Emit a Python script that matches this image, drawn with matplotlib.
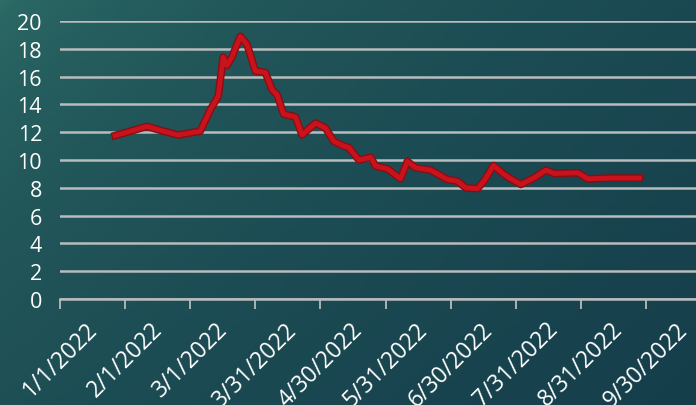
import matplotlib.pyplot as plt
import matplotlib.patheffects as pe
import numpy as np

# days since 1/1/2022 and values
days = [25.4, 32, 40, 47, 54.5, 60, 64.6, 69.2, 72.9, 75.2, 76.9, 79.2, 83.1, 86.2,
        90, 94.6, 97.7, 100, 103, 108.5, 111.5, 117.7, 122.3, 126.1, 130.8, 133,
        137.7, 143.1, 145.4, 150.8, 156.9, 160, 163.8, 170.8, 178.5, 183.1, 186.9,
        192.3, 195.4, 199.7, 204.6, 207.7, 212.3, 218.4, 223.8, 227.7, 238.5,
        243.1, 253.8, 266.9]
values = [11.76, 12.05, 12.42, 12.1, 11.8, 11.95, 12.07, 13.6, 14.6, 17.4, 16.8, 17.4,
          18.9, 18.3, 16.4, 16.3, 15.05, 14.7, 13.3, 13.1, 11.8, 12.66, 12.3, 11.35,
          11.0, 10.9, 10.0, 10.2, 9.56, 9.37, 8.65, 9.9, 9.44, 9.27, 8.6, 8.48, 8.0,
          7.94, 8.5, 9.6, 8.96, 8.65, 8.24, 8.72, 9.27, 9.03, 9.08, 8.65, 8.7, 8.7]

tick_days = [0, 30, 60, 90, 120, 150, 180, 210, 240, 270]
tick_labels = ["1/1/2022", "2/1/2022", "3/1/2022", "3/31/2022", "4/30/2022",
               "5/31/2022", "6/30/2022", "7/31/2022", "8/31/2022", "9/30/2022"]
y_ticks = list(range(0, 21, 2))

plt.rcParams['font.family'] = ['Open Sans', 'DejaVu Sans']

fig = plt.figure(figsize=(6.96, 4.06), dpi=100)

# background gradient
bg = fig.add_axes([0, 0, 1, 1], zorder=-10)
gx, gy = np.meshgrid(np.linspace(0, 1, 200), np.linspace(0, 1, 120))
t = np.clip(0.6 * gx + 0.4 * gy, 0, 1) ** 0.5
c0 = np.array([0x2e, 0x6e, 0x68]) / 255
c1 = np.array([0x15, 0x3e, 0x4b]) / 255
img = c0[None, None, :] * (1 - t[..., None]) + c1[None, None, :] * t[..., None]
bg.imshow(img, aspect='auto', extent=[0, 1, 0, 1], origin='upper')
bg.axis('off')

ax = fig.add_axes([60 / 696, 1 - 300 / 406, 1 - 60 / 696, (300 - 22) / 406])
ax.patch.set_alpha(0)

ax.plot(days, values, color='#c8121c', lw=3.5, solid_joinstyle='round',
        path_effects=[pe.Stroke(linewidth=5.5, foreground='#8a0d14'), pe.Normal()], zorder=5)

ax.set_xlim(0, 293)
ax.set_ylim(0, 20)
ax.set_yticks(y_ticks)
ax.set_xticks(tick_days)
ax.set_xticklabels(tick_labels, rotation=45, ha='center')

ax.grid(axis='y', color='#b8bcbc', lw=1.8)
ax.set_axisbelow(True)
for spine in ('top', 'right', 'left'):
    ax.spines[spine].set_visible(False)
ax.spines['bottom'].set_color('#b8bcbc')
ax.spines['bottom'].set_linewidth(1.8)

ax.tick_params(axis='y', length=0, pad=13, labelsize=15.5, labelcolor='white')
ax.tick_params(axis='x', length=7, width=1.3, color='#b8bcbc', pad=6,
               labelsize=16.5, labelcolor='white')

plt.savefig('out.png', dpi=100)
